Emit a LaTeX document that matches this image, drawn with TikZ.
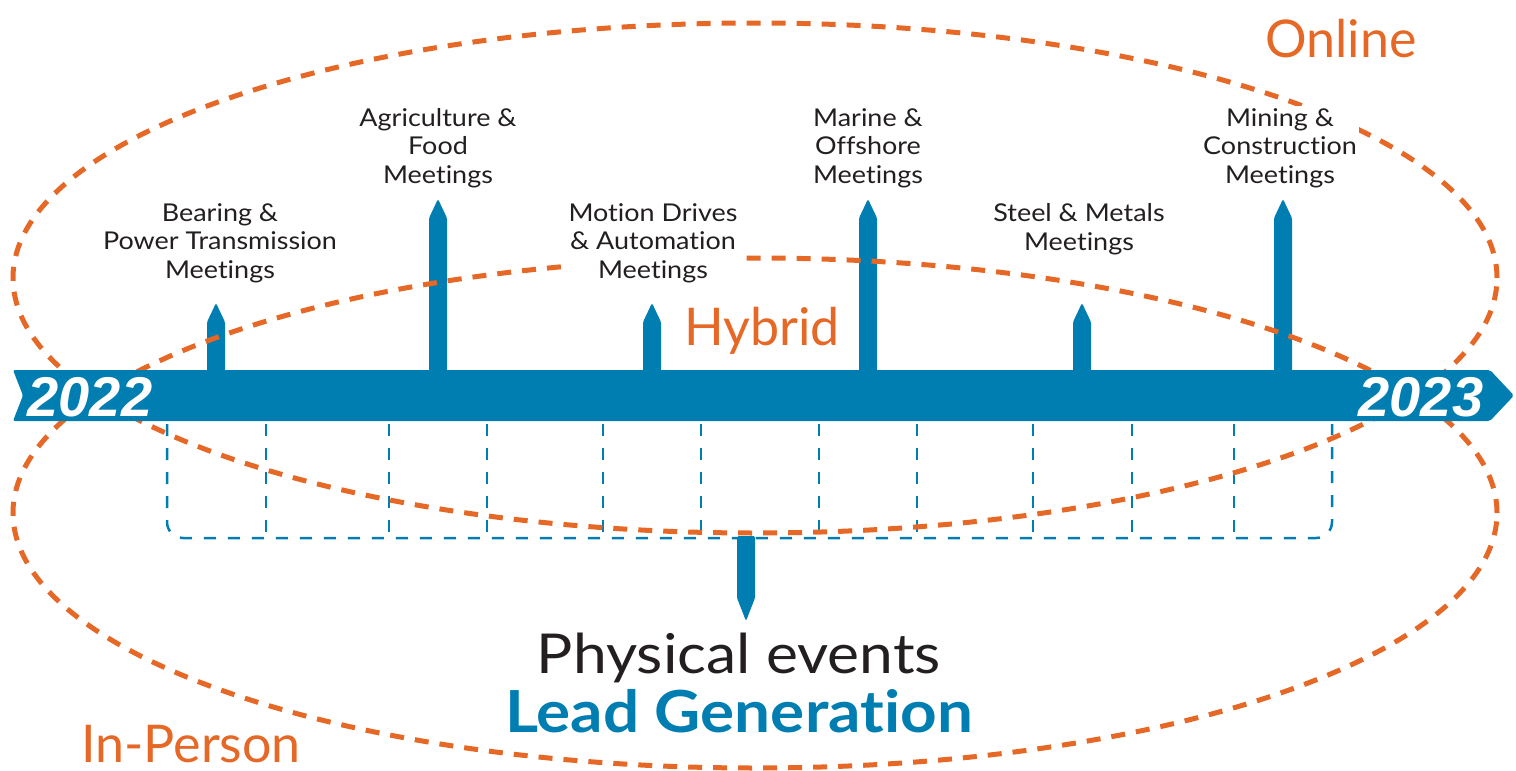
\documentclass[tikz,border=0pt]{standalone}
\usepackage{fontspec}
\setmainfont{Lato}[Ligatures=NoCommon]
\newfontfamily\widefont{Lato}[Ligatures=NoCommon,FakeStretch=1.1]
\newfontfamily\yearfont{Liberation Sans}
\definecolor{tlblue}{RGB}{0,126,178}
\definecolor{tlorange}{RGB}{230,104,38}
\definecolor{ink}{RGB}{35,31,32}
% upward pin on the timeline: #1 = centre x, #2 = tip y
\newcommand\upPin[2]{%
  \fill[tlblue,rounded corners=1.5pt] (#1-9,372) -- (#1-9,#2+19) -- (#1,#2) -- (#1+9,#2+19) -- (#1+9,372) -- cycle;}
\begin{document}
\begin{tikzpicture}[x=1pt,y=-1pt,
  every node/.style={inner sep=0pt},
  boxdash/.style={draw=tlblue,line width=2.5pt,dash pattern=on 12pt off 12pt},
  ring/.style={draw=tlorange,line width=5pt,dash pattern=on 14pt off 11pt},
  meeting/.style={fill=white,inner sep=2pt,align=center,text=ink,
    font=\widefont\fontsize{24.5}{28.5}\selectfont},
  mode/.style={anchor=base,text=tlorange,font=\fontsize{52}{60}\selectfont},
  year/.style={anchor=base,text=white,font=\yearfont\bfseries\itshape\fontsize{56}{60}\selectfont}]
\useasboundingbox (0,0) rectangle (1516,771);

% dashed brackets under the timeline
\draw[boxdash,rounded corners=16pt] (167,424) -- (167,538) -- (1332,538) -- (1332,424);
\foreach \x in {266,389,487,603,701,819,917,1033,1132,1234}
  \draw[boxdash] (\x,424) -- (\x,538);

% event pins
\upPin{216}{303}
\upPin{438}{199}
\upPin{652}{303}
\upPin{868}{199}
\upPin{1082}{303}
\upPin{1283}{199}
\fill[tlblue,rounded corners=1.5pt] (737,536) -- (737,598) -- (746,621) -- (755,598) -- (755,536) -- cycle;

% online / in-person rings
\draw[ring] (755,278) ellipse [x radius=742pt, y radius=255pt];
\draw[ring] (755,513) ellipse [x radius=742pt, y radius=255pt];

% timeline bar
\fill[tlblue,rounded corners=2pt] (13,370) -- (1490,370) -- (1514,395.5) -- (1490,421) -- (13,421) -- (23,395.5) -- cycle;
\node[year] (y22) at (90,416) {2022};
\node[year] (y23) at (1421,416) {2023};

% event labels
\node[meeting] (bearing) at (220,243) {Bearing \&\\Power Transmission\\Meetings};
\node[meeting] (agri) at (438,148) {Agriculture \&\\Food\\Meetings};
\node[meeting] (motion) at (653,243) {Motion Drives\\\& Automation\\Meetings};
\node[meeting] (marine) at (868,148) {Marine \&\\Offshore\\Meetings};
\node[meeting] (steel) at (1079,229) {Steel \& Metals\\Meetings};
\node[meeting] (mining) at (1280,148) {Mining \&\\Construction\\Meetings};

% ring labels
\node[mode] (online) at (1341,57) {Online};
\node[mode] (hybrid) at (762,345) {Hybrid};
\node[mode] (inperson) at (191,762) {In-Person};

% outcome
\node[anchor=base,text=ink,font=\widefont\fontsize{55}{60}\selectfont] (phys) at (739,673) {Physical events};
\node[anchor=base,text=tlblue,font=\widefont\bfseries\fontsize{58}{60}\selectfont] (lead) at (739,732) {Lead Generation};
\end{tikzpicture}
\end{document}
